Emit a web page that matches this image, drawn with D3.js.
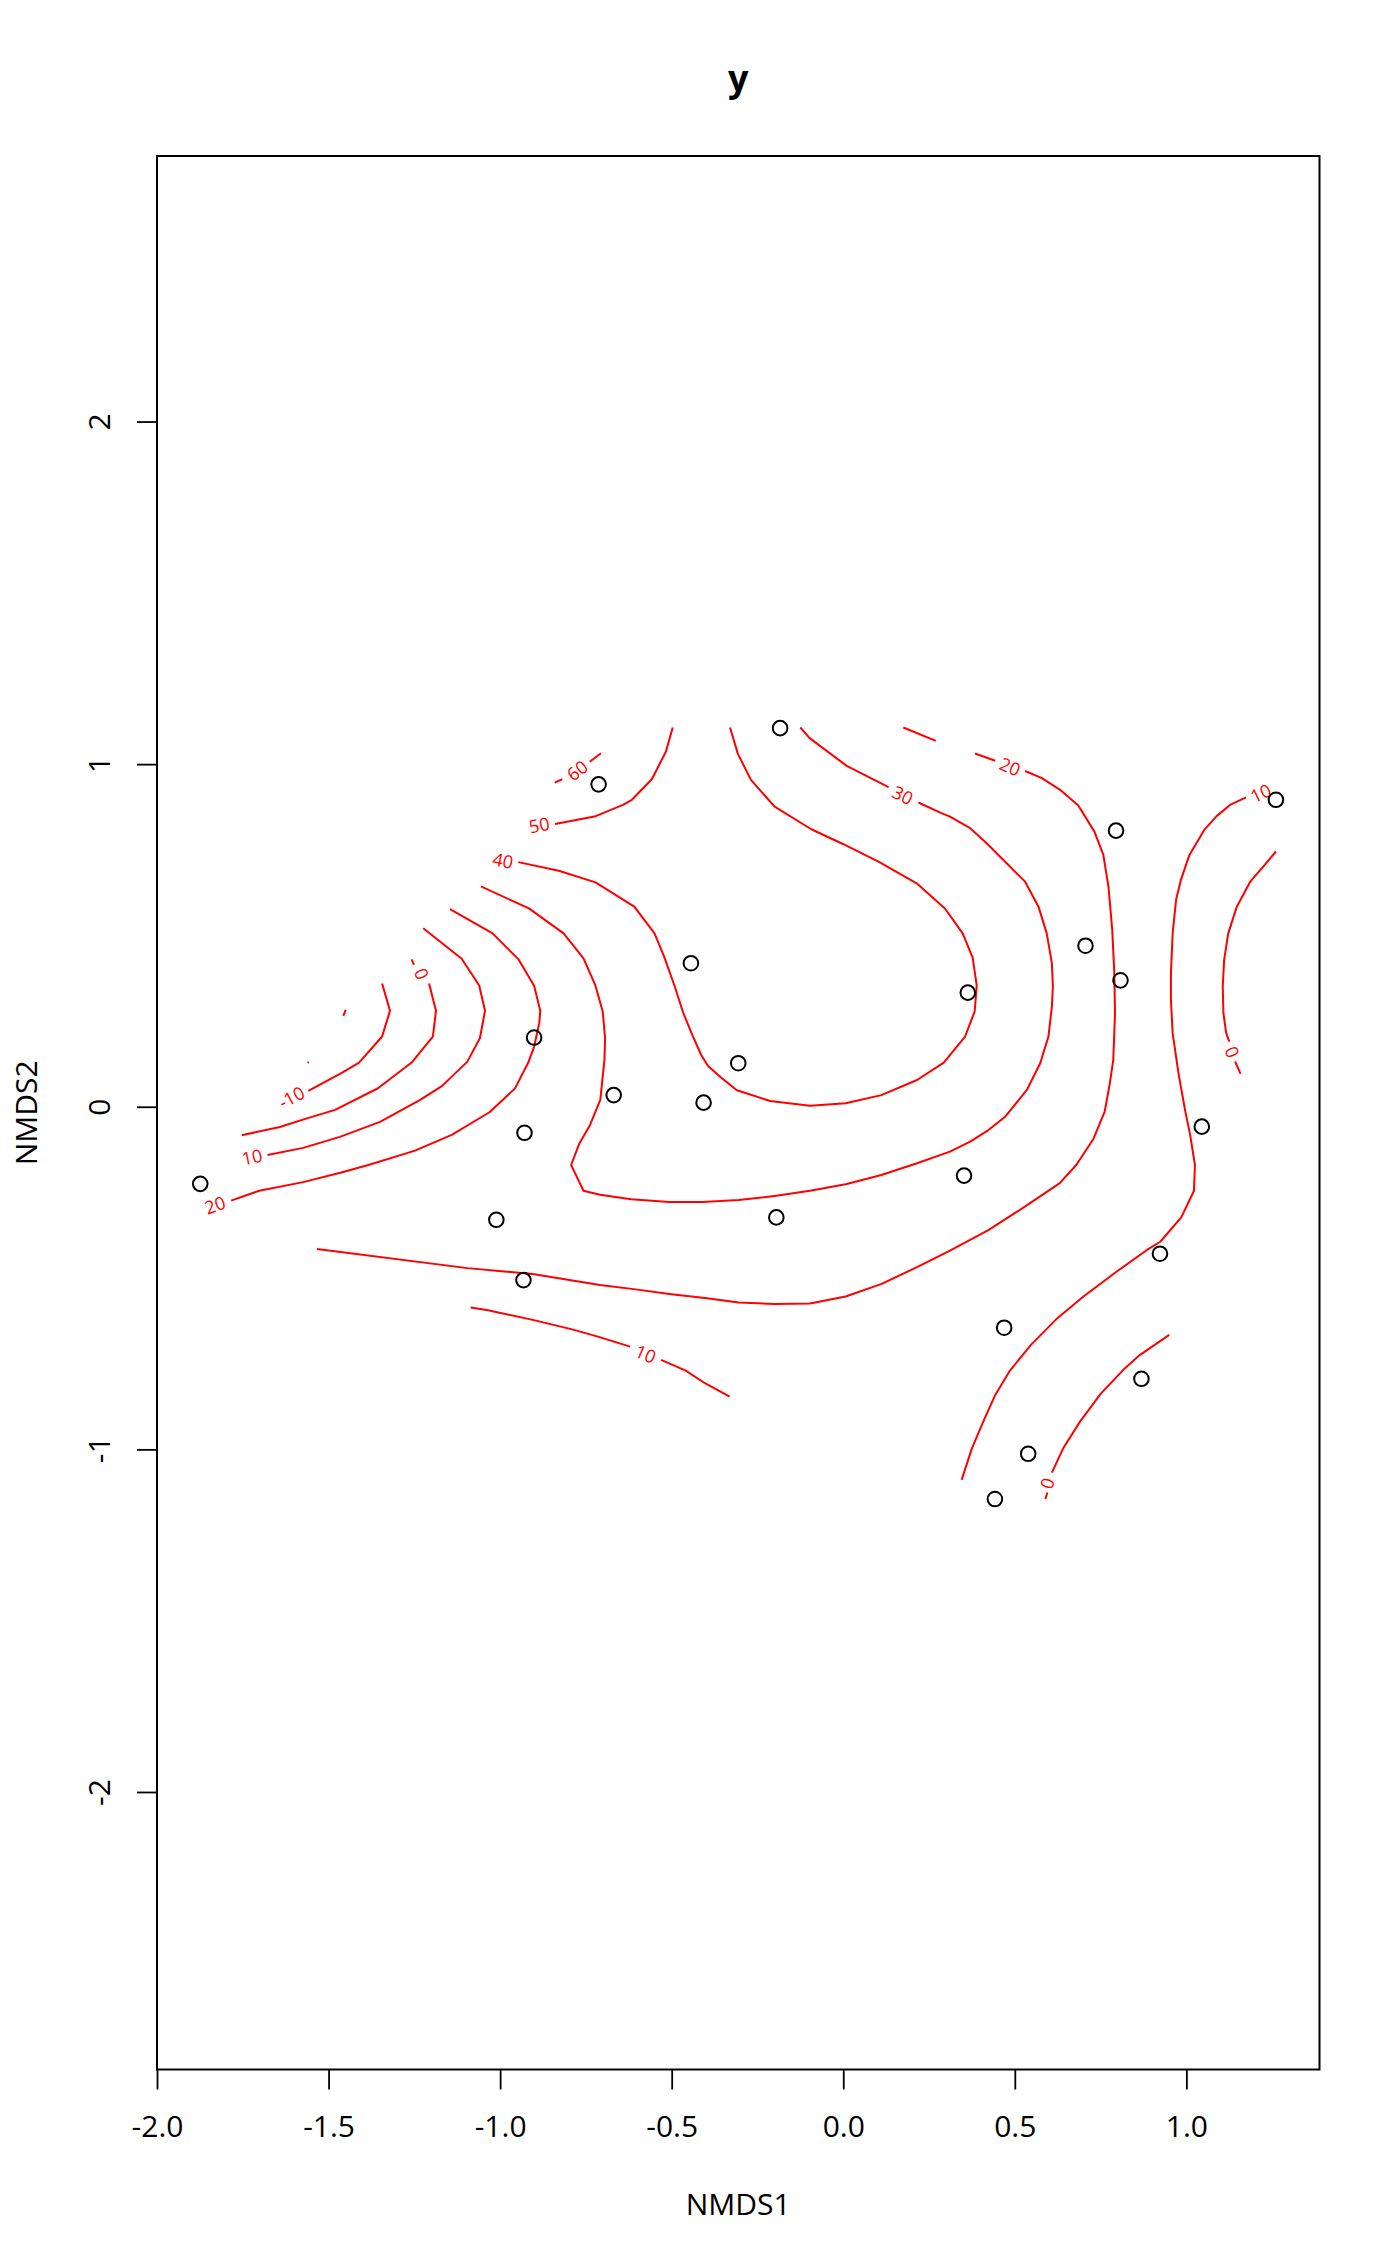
<!DOCTYPE html>
<html>
<head>
<meta charset="utf-8">
<script src="https://cdn.jsdelivr.net/npm/d3@7"></script>
<style>
  body { margin: 0; background: #fff; }
  svg { display: block; font-family: "Open Sans", sans-serif; }
</style>
</head>
<body>
<div id="chart"></div>
<script>
// Site scores (NMDS1, NMDS2)
const siteX = [-1.874, -0.713, -0.184, -0.444, -0.901, -0.669, -0.929, -0.407, -0.306, -1.011, -0.932, -0.195,
  0.363, 0.352, 0.706, 0.795, 0.808, 1.261, 1.045, 0.923, 0.469, 0.869, 0.539, 0.442];
const siteY = [-0.225, 0.941, 1.105, 0.419, 0.202, 0.034, -0.076, 0.012, 0.127, -0.330, -0.506, -0.323,
  0.333, -0.201, 0.470, 0.806, 0.369, 0.896, -0.058, -0.429, -0.645, -0.794, -1.013, -1.145];

// Fitted surface contours, one list of line pieces per level (gaps are where labels sit)
const c60 = [
  [[-0.841, 0.946], [-0.819, 0.956]],
  [[-0.739, 1.007], [-0.706, 1.032]]
];
const c50 = [
  [[-0.840, 0.825], [-0.725, 0.847], [-0.642, 0.881], [-0.616, 0.896], [-0.558, 0.956], [-0.517, 1.036], [-0.497, 1.107]]
];
const c40 = [
  [[-0.947, 0.714], [-0.829, 0.689], [-0.722, 0.655], [-0.609, 0.584], [-0.550, 0.506], [-0.522, 0.438],
   [-0.491, 0.351], [-0.466, 0.273], [-0.440, 0.210], [-0.414, 0.151], [-0.394, 0.119], [-0.358, 0.087],
   [-0.310, 0.048], [-0.213, 0.017], [-0.097, 0.003], [0.007, 0.010], [0.111, 0.034], [0.215, 0.078],
   [0.293, 0.129], [0.355, 0.205], [0.383, 0.278], [0.389, 0.354], [0.377, 0.436], [0.348, 0.506],
   [0.297, 0.578], [0.214, 0.652], [0.104, 0.715], [-0.001, 0.767], [-0.093, 0.810], [-0.200, 0.876],
   [-0.269, 0.954], [-0.307, 1.030], [-0.330, 1.107]]
];
const c30 = [
  [[-1.056, 0.643], [-0.916, 0.579], [-0.815, 0.506], [-0.757, 0.433], [-0.723, 0.356], [-0.701, 0.278],
   [-0.694, 0.200], [-0.696, 0.137], [-0.708, 0.020], [-0.738, -0.053], [-0.769, -0.107], [-0.793, -0.170],
   [-0.772, -0.214], [-0.757, -0.245], [-0.709, -0.257], [-0.618, -0.270], [-0.507, -0.278], [-0.410, -0.278],
   [-0.305, -0.272], [-0.195, -0.260], [-0.097, -0.245], [0.007, -0.226], [0.111, -0.199], [0.215, -0.165],
   [0.311, -0.131], [0.370, -0.102], [0.423, -0.068], [0.472, -0.029], [0.535, 0.049], [0.574, 0.127],
   [0.598, 0.205], [0.608, 0.292], [0.611, 0.351], [0.608, 0.419], [0.593, 0.506], [0.569, 0.584],
   [0.530, 0.657], [0.472, 0.715], [0.418, 0.769], [0.370, 0.813], [0.311, 0.847], [0.286, 0.857], [0.219, 0.888]],
  [[0.132, 0.933], [0.010, 0.995], [-0.098, 1.076], [-0.125, 1.107]]
];
const c20 = [
  [[-1.146, 0.577], [-1.022, 0.506], [-0.947, 0.431], [-0.901, 0.353], [-0.883, 0.280], [-0.886, 0.244],
   [-0.901, 0.175], [-0.918, 0.129], [-0.957, 0.053], [-1.031, -0.016], [-1.141, -0.082], [-1.248, -0.128],
   [-1.384, -0.170], [-1.463, -0.192], [-1.574, -0.220], [-1.702, -0.245], [-1.784, -0.274]],
  [[-1.534, -0.415], [-1.095, -0.471], [-0.905, -0.488], [-0.709, -0.520], [-0.605, -0.533], [-0.501, -0.547],
   [-0.397, -0.559], [-0.305, -0.571], [-0.201, -0.576], [-0.097, -0.574], [0.007, -0.554], [0.112, -0.517],
   [0.215, -0.468], [0.311, -0.420], [0.423, -0.360], [0.527, -0.293], [0.631, -0.223], [0.679, -0.170],
   [0.729, -0.094], [0.762, -0.014], [0.777, 0.069], [0.787, 0.137], [0.792, 0.273], [0.790, 0.390],
   [0.784, 0.516], [0.773, 0.642], [0.758, 0.735], [0.732, 0.803], [0.685, 0.879], [0.632, 0.925],
   [0.579, 0.959], [0.530, 0.980]],
  [[0.443, 1.010], [0.384, 1.031]],
  [[0.270, 1.068], [0.175, 1.107]]
];
const c10 = [
  [[-1.224, 0.521], [-1.112, 0.432], [-1.061, 0.354], [-1.044, 0.280], [-1.059, 0.200], [-1.096, 0.131],
   [-1.169, 0.061], [-1.233, 0.020], [-1.350, -0.044], [-1.467, -0.088], [-1.574, -0.120], [-1.678, -0.141]],
  [[-1.086, -0.586], [-1.039, -0.593], [-0.905, -0.622], [-0.793, -0.649], [-0.715, -0.671], [-0.621, -0.700]],
  [[-0.531, -0.739], [-0.459, -0.770], [-0.403, -0.807], [-0.331, -0.846]],
  [[1.174, 0.903], [1.127, 0.881], [1.089, 0.849], [1.052, 0.808], [1.009, 0.735], [0.984, 0.662],
   [0.970, 0.604], [0.960, 0.506], [0.955, 0.390], [0.955, 0.312], [0.960, 0.215], [0.977, 0.098],
   [0.996, -0.009], [1.011, -0.082], [1.025, -0.170], [1.022, -0.246], [0.985, -0.323], [0.924, -0.394],
   [0.885, -0.418], [0.797, -0.481], [0.700, -0.554], [0.624, -0.617], [0.547, -0.695], [0.486, -0.770],
   [0.442, -0.843], [0.408, -0.919], [0.375, -0.997], [0.345, -1.089]]
];
const c0 = [
  [[-1.258, 0.430], [-1.251, 0.414]],
  [[-1.207, 0.360], [-1.187, 0.280], [-1.196, 0.205], [-1.258, 0.129], [-1.356, 0.054], [-1.481, -0.009],
   [-1.563, -0.034], [-1.642, -0.059], [-1.753, -0.083]],
  [[1.261, 0.745], [1.224, 0.701], [1.186, 0.657], [1.147, 0.584], [1.122, 0.506], [1.110, 0.428],
   [1.106, 0.351], [1.108, 0.273], [1.116, 0.215], [1.125, 0.190]],
  [[1.142, 0.132], [1.158, 0.096]],
  [[0.950, -0.666], [0.865, -0.724], [0.821, -0.763], [0.750, -0.838], [0.690, -0.919], [0.641, -0.997], [0.608, -1.068]],
  [[0.595, -1.126], [0.589, -1.145]]
];
const cm10 = [
  [[-1.344, 0.360], [-1.321, 0.280], [-1.344, 0.205], [-1.411, 0.129], [-1.463, 0.098], [-1.559, 0.046]]
];
const cm20 = [
  [[-1.457, 0.265], [-1.450, 0.283]],
  [[-1.561, 0.128], [-1.558, 0.131]]
];

const contourLevels = [60, 50, 40, 30, 20, 10, 0, -10, -20];
const contourPieces = [c60, c50, c40, c30, c20, c10, c0, cm10, cm20];

// Contour labels
const labelLevel = [60, 50, 40, 30, 20, 20, 10, 10, 10, 0, 0, 0, -10];
const labelX = [-0.775, -0.886, -0.992, 0.173, 0.486, -1.831, -1.723, -0.576, 1.217, -1.229, 1.133, 0.595, -1.608];
const labelY = [0.981, 0.822, 0.718, 0.909, 0.992, -0.287, -0.147, -0.722, 0.915, 0.388, 0.160, -1.099, 0.027];

const xTicks = [-2.0, -1.5, -1.0, -0.5, 0.0, 0.5, 1.0];
const yTicks = [-2, -1, 0, 1, 2];

const W = 1400, H = 2266;
const plot = { left: 157, right: 1319.5, top: 156, bottom: 2069.5 };

const svg = d3.select("#chart").append("svg")
  .attr("width", W)
  .attr("height", H);

svg.append("rect").attr("width", W).attr("height", H).attr("fill", "#fff");

const xScale = d3.scaleLinear().domain([-2.0, 1.388]).range([plot.left, plot.right]);
const yScale = d3.scaleLinear().domain([-2.810, 2.775]).range([plot.bottom, plot.top]);

// axes
const xAxis = d3.axisBottom(xScale)
  .tickValues(xTicks)
  .tickFormat((d) => d.toFixed(1))
  .tickSize(20)
  .tickPadding(26);

const yAxis = d3.axisLeft(yScale)
  .tickValues(yTicks)
  .tickFormat((d) => String(d))
  .tickSize(20);

const gx = svg.append("g")
  .attr("transform", `translate(0, ${plot.bottom})`)
  .call(xAxis);

const gy = svg.append("g")
  .attr("transform", `translate(${plot.left}, 0)`)
  .call(yAxis);

[gx, gy].forEach((g) => {
  g.select(".domain").remove();
  g.selectAll(".tick line").attr("stroke", "#000").attr("stroke-width", 1.8);
  g.selectAll(".tick text")
    .attr("fill", "#000")
    .style("font-size", "30px")
    .style("font-family", "'Open Sans', sans-serif");
});

gy.selectAll(".tick text")
  .attr("x", null)
  .attr("dy", null)
  .attr("text-anchor", "middle")
  .attr("transform", "translate(-47, 0) rotate(-90)");

// box
svg.append("rect")
  .attr("x", plot.left)
  .attr("y", plot.top)
  .attr("width", plot.right - plot.left)
  .attr("height", plot.bottom - plot.top)
  .attr("fill", "none")
  .attr("stroke", "#000")
  .attr("stroke-width", 2);

// titles
svg.append("text")
  .attr("x", (plot.left + plot.right) / 2)
  .attr("y", 91)
  .attr("text-anchor", "middle")
  .style("font-size", "36px")
  .style("font-weight", "bold")
  .text("y");

svg.append("text")
  .attr("x", (plot.left + plot.right) / 2)
  .attr("y", 2215)
  .attr("text-anchor", "middle")
  .style("font-size", "30px")
  .text("NMDS1");

svg.append("text")
  .attr("transform", `translate(37, ${(plot.top + plot.bottom) / 2}) rotate(-90)`)
  .attr("text-anchor", "middle")
  .style("font-size", "30px")
  .text("NMDS2");

// contour lines
const line = d3.line()
  .x((d) => xScale(d[0]))
  .y((d) => yScale(d[1]));

const pieces = [];
contourLevels.forEach((lev, i) => {
  contourPieces[i].forEach((seg) => pieces.push({ level: lev, seg: seg }));
});

svg.append("g")
  .selectAll("path")
  .data(pieces)
  .enter()
  .append("path")
  .attr("d", (d) => line(d.seg))
  .attr("fill", "none")
  .attr("stroke", "#ff0000")
  .attr("stroke-width", 2)
  .attr("stroke-linejoin", "round");

// label angle follows the nearest line end of the same level
function labelAngle(lev, lx, ly) {
  const px = xScale(lx), py = yScale(ly);
  let best = null, bestDist = Infinity;
  pieces.filter((p) => p.level === lev).forEach((p) => {
    const s = p.seg;
    [[0, 1], [s.length - 1, s.length - 2]].forEach(([a, b]) => {
      const ex = xScale(s[a][0]), ey = yScale(s[a][1]);
      const dist = Math.hypot(ex - px, ey - py);
      if (dist < bestDist) {
        bestDist = dist;
        best = [xScale(s[b][0]) - ex, yScale(s[b][1]) - ey];
      }
    });
  });
  let ang = Math.atan2(best[1], best[0]) * 180 / Math.PI;
  if (ang > 90) ang -= 180;
  if (ang < -90) ang += 180;
  return ang;
}

svg.append("g")
  .selectAll("text")
  .data(labelLevel)
  .enter()
  .append("text")
  .attr("transform", (d, i) =>
    `translate(${xScale(labelX[i])}, ${yScale(labelY[i])}) rotate(${labelAngle(d, labelX[i], labelY[i])})`)
  .attr("text-anchor", "middle")
  .attr("dy", "0.36em")
  .attr("fill", "#ff0000")
  .style("font-size", "18px")
  .text((d) => String(d));

// site points
svg.append("g")
  .selectAll("circle")
  .data(siteX)
  .enter()
  .append("circle")
  .attr("cx", (d) => xScale(d))
  .attr("cy", (d, i) => yScale(siteY[i]))
  .attr("r", 7.3)
  .attr("fill", "none")
  .attr("stroke", "#000")
  .attr("stroke-width", 2);
</script>
</body>
</html>
